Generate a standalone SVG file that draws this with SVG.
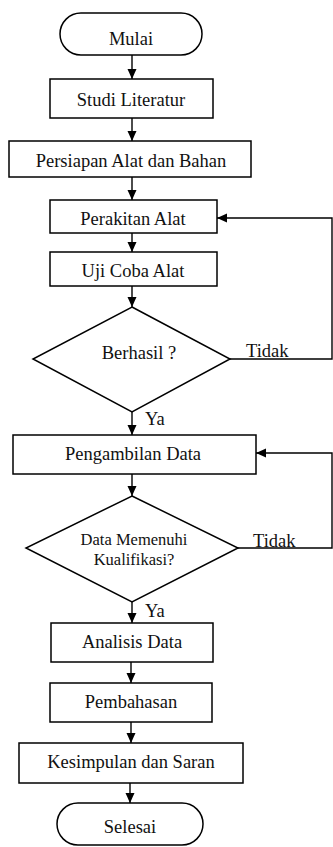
<svg xmlns="http://www.w3.org/2000/svg" width="333" height="847" viewBox="0 0 333 847">
<style>
.box{fill:#fff;stroke:#000;stroke-width:1.5}
.t{font-family:'Liberation Serif','DejaVu Serif',serif;font-size:18.5px;fill:#111;text-anchor:middle}
.s{font-family:'Liberation Serif','DejaVu Serif',serif;font-size:16.5px;fill:#111;text-anchor:middle}
.lbl{font-family:'Liberation Serif','DejaVu Serif',serif;font-size:18.5px;fill:#111}
.c{fill:none;stroke:#000;stroke-width:1.4}
</style>
<defs>
<marker id="ah" markerUnits="userSpaceOnUse" markerWidth="10" markerHeight="10" refX="10" refY="5" orient="auto">
<path d="M0,0.5 L10,5 L0,9.5 z" fill="#000"/>
</marker>
</defs>
<rect width="333" height="847" fill="#fff"/>
<g id="connectors">
<line class="c" x1="132" y1="55" x2="132" y2="79" marker-end="url(#ah)"/>
<line class="c" x1="132" y1="118" x2="132" y2="141" marker-end="url(#ah)"/>
<line class="c" x1="132" y1="177" x2="132" y2="200" marker-end="url(#ah)"/>
<line class="c" x1="132" y1="233" x2="132" y2="252" marker-end="url(#ah)"/>
<line class="c" x1="132" y1="286" x2="132" y2="307" marker-end="url(#ah)"/>
<line class="c" x1="132" y1="412" x2="132" y2="435" marker-end="url(#ah)"/>
<line class="c" x1="132" y1="474" x2="132" y2="496" marker-end="url(#ah)"/>
<line class="c" x1="132" y1="602" x2="132" y2="623" marker-end="url(#ah)"/>
<line class="c" x1="131" y1="662" x2="131" y2="683" marker-end="url(#ah)"/>
<line class="c" x1="131" y1="722" x2="131" y2="743" marker-end="url(#ah)"/>
<line class="c" x1="130" y1="783" x2="130" y2="803" marker-end="url(#ah)"/>
<polyline class="c" points="230,359 332,359 332,218 217,218" marker-end="url(#ah)"/>
<polyline class="c" points="238,548 332,548 332,453 256,453" marker-end="url(#ah)"/>
<text class="lbl" x="246" y="357">Tidak</text>
<text class="lbl" x="253" y="547">Tidak</text>
<text class="lbl" x="145" y="425">Ya</text>
<text class="lbl" x="145" y="617">Ya</text>
</g>
<g id="mulai">
<rect class="box" x="60" y="13" width="142" height="42" rx="21"/>
<text class="t" x="131" y="45">Mulai</text>
</g>
<g id="studi">
<rect class="box" x="50" y="79" width="163" height="39"/>
<text class="t" x="131" y="106">Studi Literatur</text>
</g>
<g id="persiapan">
<rect class="box" x="9" y="141" width="242" height="36"/>
<text class="t" x="131" y="167">Persiapan Alat dan Bahan</text>
</g>
<g id="perakitan">
<rect class="box" x="50" y="200" width="167" height="33"/>
<text class="t" x="133" y="225">Perakitan Alat</text>
</g>
<g id="uji">
<rect class="box" x="50" y="252" width="167" height="34"/>
<text class="t" x="133" y="277">Uji Coba Alat</text>
</g>
<g id="berhasil">
<polygon class="box" points="132,307 230,359 132,412 33,359"/>
<text class="t" x="139" y="359">Berhasil ?</text>
</g>
<g id="pengambilan">
<rect class="box" x="13" y="435" width="243" height="39"/>
<text class="t" x="133" y="460">Pengambilan Data</text>
</g>
<g id="memenuhi">
<polygon class="box" points="132,496 238,548 132,602 26,548"/>
<text class="s" x="134" y="545">Data Memenuhi</text>
<text class="s" x="134" y="565">Kualifikasi?</text>
</g>
<g id="analisis">
<rect class="box" x="51" y="623" width="162" height="39"/>
<text class="t" x="132" y="648">Analisis Data</text>
</g>
<g id="pembahasan">
<rect class="box" x="50" y="683" width="162" height="39"/>
<text class="t" x="131" y="708">Pembahasan</text>
</g>
<g id="kesimpulan">
<rect class="box" x="19" y="743" width="224" height="40"/>
<text class="t" x="131" y="768">Kesimpulan dan Saran</text>
</g>
<g id="selesai">
<rect class="box" x="57" y="803" width="146" height="42" rx="21"/>
<text class="t" x="130" y="833">Selesai</text>
</g>
</svg>
